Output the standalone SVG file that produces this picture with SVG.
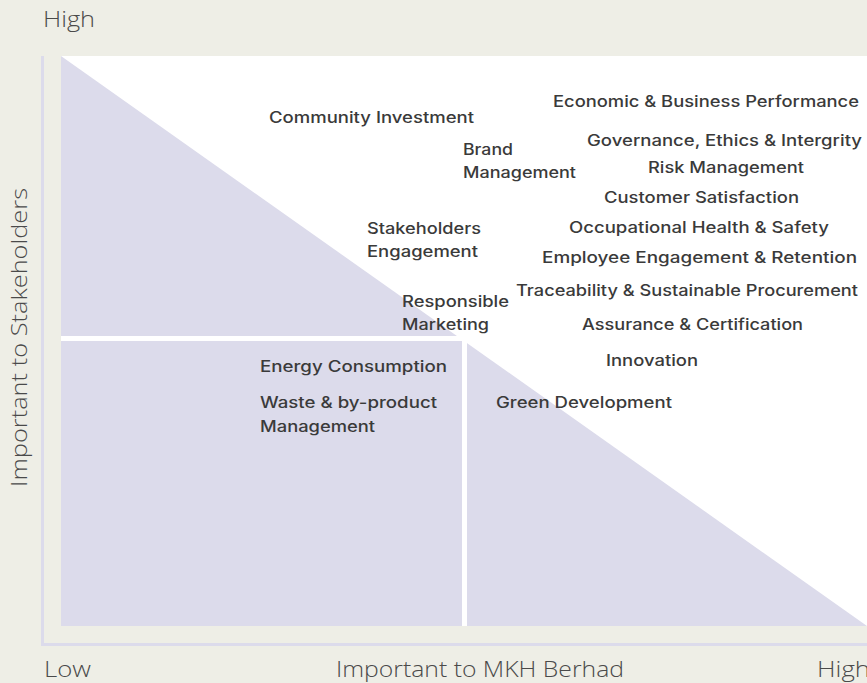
<svg xmlns="http://www.w3.org/2000/svg" width="867" height="683" viewBox="0 0 867 683">
  <style>
    .axis { font-family: "Open Sans", "Liberation Sans", sans-serif; font-size: 22px; font-weight: 300; fill: #4a4a4a; }
    .lbl { font-family: Inter, "Open Sans", "Liberation Sans", sans-serif; font-size: 15.5px; font-weight: 500; fill: #3a3a3a; }
    .shade { fill: #dcdbeb; }
    .axisline { fill: #dcdbeb; }
    .gap { stroke: #ffffff; fill: none; }
  </style>
  <rect x="0" y="0" width="867" height="683" fill="#eeeee6"/>

  <g id="plot">
    <rect x="61" y="56" width="806" height="570" fill="#ffffff"/>
    <polygon class="shade" points="61,56 867,626 61,626"/>
    <line class="gap" x1="61" y1="338.5" x2="464" y2="338.5" stroke-width="5"/>
    <line class="gap" x1="464.5" y1="336" x2="464.5" y2="626" stroke-width="5"/>
  </g>

  <g id="axes">
    <rect class="axisline" x="41" y="56" width="3" height="590"/>
    <rect class="axisline" x="41" y="643" width="826" height="3"/>
  </g>

  <g id="axis-labels">
    <text class="axis" x="43" y="27" textLength="52" lengthAdjust="spacingAndGlyphs">High</text>
    <text class="axis" x="44" y="677" textLength="47" lengthAdjust="spacingAndGlyphs">Low</text>
    <text class="axis" x="336" y="677" textLength="288" lengthAdjust="spacingAndGlyphs">Important to MKH Berhad</text>
    <text class="axis" x="817" y="677" textLength="53" lengthAdjust="spacingAndGlyphs">High</text>
    <text class="axis" transform="translate(27,487) rotate(-90)" x="0" y="0" textLength="299" lengthAdjust="spacingAndGlyphs">Important to Stakeholders</text>
  </g>

  <g id="connectors"></g>

  <g id="community-investment"><text class="lbl" x="269" y="123" textLength="205" lengthAdjust="spacingAndGlyphs">Community Investment</text></g>
  <g id="brand-management">
    <text class="lbl" x="463" y="155" textLength="50" lengthAdjust="spacingAndGlyphs">Brand</text>
    <text class="lbl" x="463" y="178" textLength="113" lengthAdjust="spacingAndGlyphs">Management</text>
  </g>
  <g id="stakeholders-engagement">
    <text class="lbl" x="367" y="234" textLength="114" lengthAdjust="spacingAndGlyphs">Stakeholders</text>
    <text class="lbl" x="367" y="257" textLength="111" lengthAdjust="spacingAndGlyphs">Engagement</text>
  </g>
  <g id="economic"><text class="lbl" x="553" y="107" textLength="306" lengthAdjust="spacingAndGlyphs">Economic &amp; Business Performance</text></g>
  <g id="governance"><text class="lbl" x="587" y="146" textLength="275" lengthAdjust="spacingAndGlyphs">Governance, Ethics &amp; Intergrity</text></g>
  <g id="risk"><text class="lbl" x="648" y="173" textLength="156" lengthAdjust="spacingAndGlyphs">Risk Management</text></g>
  <g id="customer"><text class="lbl" x="604" y="203" textLength="195" lengthAdjust="spacingAndGlyphs">Customer Satisfaction</text></g>
  <g id="ohs"><text class="lbl" x="569" y="233" textLength="260" lengthAdjust="spacingAndGlyphs">Occupational Health &amp; Safety</text></g>
  <g id="employee"><text class="lbl" x="542" y="263" textLength="315" lengthAdjust="spacingAndGlyphs">Employee Engagement &amp; Retention</text></g>
  <g id="responsible-marketing">
    <text class="lbl" x="402" y="307" textLength="107" lengthAdjust="spacingAndGlyphs">Responsible</text>
    <text class="lbl" x="402" y="330" textLength="87" lengthAdjust="spacingAndGlyphs">Marketing</text>
  </g>
  <g id="traceability"><text class="lbl" x="516" y="296" textLength="342" lengthAdjust="spacingAndGlyphs">Traceability &amp; Sustainable Procurement</text></g>
  <g id="assurance"><text class="lbl" x="582" y="330" textLength="221" lengthAdjust="spacingAndGlyphs">Assurance &amp; Certification</text></g>
  <g id="innovation"><text class="lbl" x="606" y="366" textLength="92" lengthAdjust="spacingAndGlyphs">Innovation</text></g>
  <g id="energy"><text class="lbl" x="260" y="372" textLength="187" lengthAdjust="spacingAndGlyphs">Energy Consumption</text></g>
  <g id="waste">
    <text class="lbl" x="260" y="408" textLength="177" lengthAdjust="spacingAndGlyphs">Waste &amp; by-product</text>
    <text class="lbl" x="260" y="432" textLength="115" lengthAdjust="spacingAndGlyphs">Management</text>
  </g>
  <g id="green"><text class="lbl" x="496" y="408" textLength="176" lengthAdjust="spacingAndGlyphs">Green Development</text></g>
</svg>
